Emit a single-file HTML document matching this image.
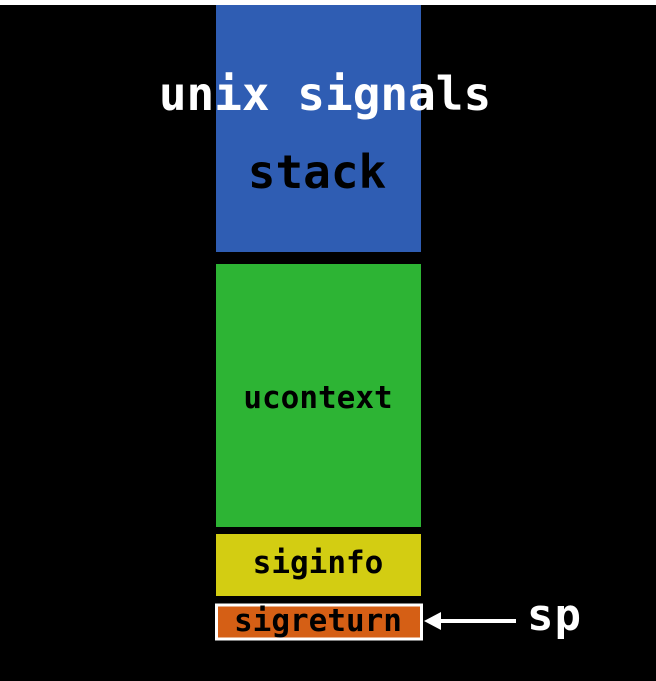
<!DOCTYPE html>
<html><head><style>
html,body{margin:0;padding:0;background:#000;width:656px;height:681px;overflow:hidden}
svg{display:block}
text{font-family:"DejaVu Sans Mono","Liberation Mono",monospace;font-weight:bold}
</style></head><body>
<svg width="656" height="681" viewBox="0 0 656 681">
<rect x="0" y="0" width="656" height="681" fill="#000"/>
<rect x="0" y="0" width="656" height="5" fill="#fff"/>
<rect x="216" y="5" width="205" height="247" fill="#2f5db3"/>
<rect x="216" y="264" width="205" height="263" fill="#2db434"/>
<rect x="216" y="534" width="205" height="62" fill="#d3cd12"/>
<rect x="216.5" y="605" width="205" height="34" fill="#d55f15" stroke="#fff" stroke-width="3"/>
<text x="325" y="110" font-size="46" fill="#fff" text-anchor="middle">unix signals</text>
<text x="317" y="188" font-size="46" fill="#000" text-anchor="middle">stack</text>
<text x="318" y="408" font-size="31" fill="#000" text-anchor="middle">ucontext</text>
<text x="318" y="573" font-size="31" fill="#000" text-anchor="middle">siginfo</text>
<text x="318" y="631" font-size="31" fill="#000" text-anchor="middle">sigreturn</text>
<line x1="438" y1="621" x2="516" y2="621" stroke="#fff" stroke-width="4"/>
<polygon points="424,621 441,612 441,630" fill="#fff"/>
<text x="527" y="630" font-size="44" fill="#fff" textLength="54">sp</text>
</svg>
</body></html>
